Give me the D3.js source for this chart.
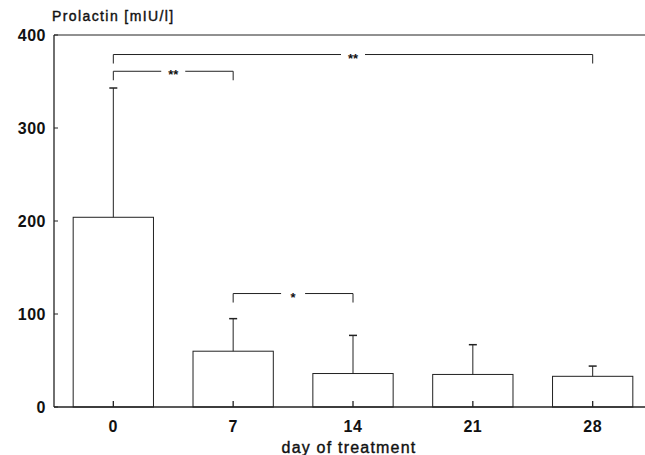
<!DOCTYPE html>
<html lang="en">
<head>
<meta charset="utf-8"/>
<title>Prolactin by day of treatment</title>
<script src="https://cdn.jsdelivr.net/npm/d3@7"></script>
<style>
  html, body { margin: 0; padding: 0; background: #fff; }
  svg { display: block; }
  text { font-family: "Liberation Sans", Arial, sans-serif; fill: #111; }
</style>
</head>
<body>
<svg id="chart" width="645" height="455"></svg>
<script>
  // data
  var days = ["0", "7", "14", "21", "28"];
  var means = [204, 60, 36, 35, 33];
  var sdTop = [343, 95, 77, 67, 44];
  var yTicks = [0, 100, 200, 300, 400];
  // significance brackets: from, to, label, level (units)
  var sigFrom = ["0", "0", "7"];
  var sigTo = ["7", "28", "14"];
  var sigLabel = ["**", "**", "*"];
  var sigLevel = [361, 379, 122];

  var svg = d3.select("#chart");
  var plotL = 54, plotR = 645, plotT = 35, plotB = 407;

  var x = d3.scaleBand().domain(days).range([54, 652]).paddingInner(0.33).paddingOuter(0.16);
  var y = d3.scaleLinear().domain([0, 400]).range([plotB, plotT]);
  var ink = "#222";

  // frame: left axis, top line, baseline
  svg.append("line").attr("x1", plotL).attr("x2", plotL).attr("y1", y(400)).attr("y2", y(0))
    .attr("stroke", ink).attr("stroke-width", 1.3);
  svg.append("line").attr("x1", plotL).attr("x2", plotR).attr("y1", y(400)).attr("y2", y(400))
    .attr("stroke", ink).attr("stroke-width", 1);
  svg.append("line").attr("x1", plotL).attr("x2", plotR).attr("y1", y(0)).attr("y2", y(0))
    .attr("stroke", ink).attr("stroke-width", 1.3);

  // y ticks (inward) + labels
  svg.selectAll(".yt").data(yTicks).enter().append("line")
    .attr("x1", plotL).attr("x2", plotL + 4)
    .attr("y1", function(d) { return y(d); }).attr("y2", function(d) { return y(d); })
    .attr("stroke", ink);
  svg.selectAll(".yl").data(yTicks).enter().append("text")
    .attr("x", 46).attr("y", function(d) { return y(d) + 6; })
    .attr("text-anchor", "end").attr("font-size", 16).attr("letter-spacing", 0.5)
    .attr("font-weight", "bold").text(function(d) { return d; });

  var cx = function(d) { return x(d) + x.bandwidth() / 2; };

  // bars
  svg.selectAll(".bar").data(days).enter().append("rect")
    .attr("x", function(d) { return x(d); })
    .attr("y", function(d, i) { return y(means[i]); })
    .attr("width", x.bandwidth())
    .attr("height", function(d, i) { return y(0) - y(means[i]); })
    .attr("fill", "none").attr("stroke", ink).attr("stroke-width", 1);

  // error bars
  svg.selectAll(".err").data(days).enter().append("line")
    .attr("x1", cx).attr("x2", cx)
    .attr("y1", function(d, i) { return y(means[i]); })
    .attr("y2", function(d, i) { return y(sdTop[i]); })
    .attr("stroke", ink);
  svg.selectAll(".cap").data(days).enter().append("line")
    .attr("x1", function(d) { return cx(d) - 4; }).attr("x2", function(d) { return cx(d) + 4; })
    .attr("y1", function(d, i) { return y(sdTop[i]); })
    .attr("y2", function(d, i) { return y(sdTop[i]); })
    .attr("stroke", ink).attr("stroke-width", 1.5);

  // x ticks (inward) + labels
  svg.selectAll(".xt").data(days).enter().append("line")
    .attr("x1", cx).attr("x2", cx).attr("y1", y(0)).attr("y2", y(0) - 6)
    .attr("stroke", ink).attr("stroke-width", 1.3);
  svg.selectAll(".xl").data(days).enter().append("text")
    .attr("x", cx).attr("y", y(0) + 25)
    .attr("text-anchor", "middle").attr("font-size", 16).attr("letter-spacing", 0.5)
    .attr("font-weight", "bold").text(function(d) { return d; });

  // significance brackets
  sigLabel.forEach(function(lab, i) {
    var x1 = cx(sigFrom[i]), x2 = cx(sigTo[i]), yy = y(sigLevel[i]);
    var mid = (x1 + x2) / 2;
    var g = svg.append("g");
    g.append("path")
      .attr("d", "M" + x1 + "," + (yy + 9) + "V" + yy + "H" + (mid - 12))
      .attr("fill", "none").attr("stroke", ink);
    g.append("path")
      .attr("d", "M" + (mid + 12) + "," + yy + "H" + x2 + "V" + (yy + 9))
      .attr("fill", "none").attr("stroke", ink);
    g.append("text").attr("x", mid).attr("y", yy + 8)
      .attr("text-anchor", "middle").attr("font-size", 13).attr("font-weight", "bold")
      .text(lab);
  });

  // titles
  svg.append("text").attr("x", 52).attr("y", 21)
    .attr("font-size", 14).attr("letter-spacing", 1.4)
    .attr("stroke", "#111").attr("stroke-width", 0.4)
    .text("Prolactin [mIU/l]");
  svg.append("text").attr("x", 349).attr("y", 453)
    .attr("text-anchor", "middle").attr("font-size", 16).attr("letter-spacing", 1.2)
    .attr("stroke", "#111").attr("stroke-width", 0.4)
    .text("day of treatment");
</script>
</body>
</html>
